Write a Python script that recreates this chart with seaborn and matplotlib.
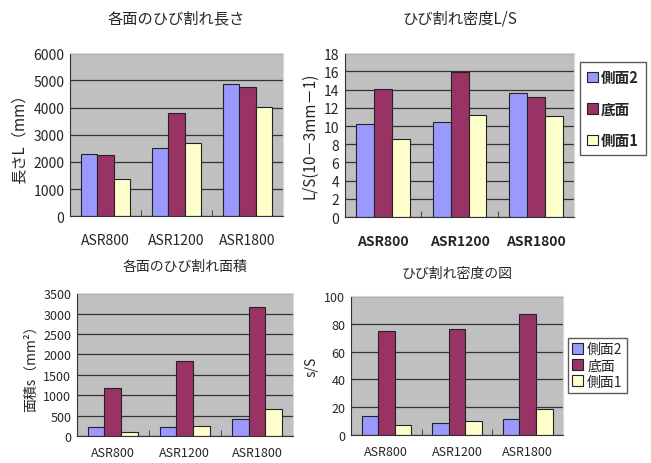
import numpy as np
import pandas as pd
import seaborn as sns
import matplotlib.pyplot as plt

# data
cats = ['ASR800', 'ASR1200', 'ASR1800']
series = ['側面2', '底面', '側面1']

# 各面のひび割れ長さ (mm)
len_side2 = [2300, 2520, 4880]
len_bottom = [2250, 3800, 4750]
len_side1 = [1370, 2700, 4030]

# ひび割れ密度 L/S
ls_side2 = [10.2, 10.4, 13.6]
ls_bottom = [14.1, 15.9, 13.2]
ls_side1 = [8.6, 11.2, 11.1]

# 各面のひび割れ面積 (mm2)
area_side2 = [220, 220, 430]
area_bottom = [1180, 1830, 3170]
area_side1 = [110, 250, 660]

# ひび割れ密度の図 s/S
sS_side2 = [14, 9, 11.5]
sS_bottom = [74.5, 76, 87]
sS_side1 = [7, 10, 18.5]

colors = ['#9999FF', '#993366', '#FFFFCC']

sns.set_style('white')
plt.rcParams['font.family'] = ['Noto Sans CJK JP', 'DejaVu Sans']


def make_df(a, b, c):
    rows = []
    for s, vals in zip(series, [a, b, c]):
        for cat, v in zip(cats, vals):
            rows.append({'cat': cat, 'series': s, 'val': v})
    return pd.DataFrame(rows)


def draw(ax, df, ymax, ystep, title, ylabel, legend=False, bold_x=False,
         tsize=10, xpad=12, tpad=22, titlesize=11):
    ax.set_facecolor('#C0C0C0')
    sns.barplot(data=df, x='cat', y='val', hue='series', hue_order=series,
                palette=colors, edgecolor='#222222', linewidth=0.8,
                width=0.7, ax=ax, legend=legend, saturation=1)
    ax.set_ylim(0, ymax)
    ax.set_yticks(np.arange(0, ymax + ystep / 2, ystep))
    ax.yaxis.grid(True, color='#333333', linewidth=0.9)
    ax.set_axisbelow(True)
    ax.set_xlim(-0.5, 2.5)
    ax.set_xticks([0.5, 1.5], minor=True)
    ax.tick_params(axis='x', which='minor', direction='in', length=4, color='#333333', bottom=True)
    ax.tick_params(axis='x', which='major', length=0, pad=xpad, labelsize=tsize)
    ax.tick_params(axis='y', length=0, labelsize=tsize, pad=4)
    if bold_x:
        for t in ax.get_xticklabels():
            t.set_fontweight('bold')
    for s in ['top', 'right']:
        ax.spines[s].set_color('#D8D8D8')
    for s in ['left', 'bottom']:
        ax.spines[s].set_color('#333333')
    ax.set_xlabel('')
    ax.set_ylabel(ylabel, fontsize=tsize + 1)
    ax.set_title(title, fontsize=titlesize, pad=tpad)


fig = plt.figure(figsize=(6.51, 4.64), dpi=100)

ax1 = fig.add_axes([0.1075, 0.532, 0.327, 0.351])
draw(ax1, make_df(len_side2, len_bottom, len_side1), 6000, 1000,
     '各面のひび割れ長さ', '長さL（mm）')

ax2 = fig.add_axes([0.530, 0.530, 0.352, 0.353])
draw(ax2, make_df(ls_side2, ls_bottom, ls_side1), 18, 2,
     'ひび割れ密度L/S', 'L/S(10－3mm－1)', legend=True, bold_x=True)
ax2.legend(loc='upper left', bbox_to_anchor=(0.891, 0.864), bbox_transform=fig.transFigure,
           prop={'size': 10.5, 'weight': 'bold'}, frameon=True, fancybox=False,
           edgecolor='#333333', handlelength=0.7, handleheight=0.7, handletextpad=0.25,
           labelspacing=1.05, borderpad=0.5, borderaxespad=0)

ax3 = fig.add_axes([0.118, 0.058, 0.332, 0.308])
draw(ax3, make_df(area_side2, area_bottom, area_side1), 3500, 500,
     '各面のひび割れ面積', '面積s（mm²）', tsize=9, xpad=7, tpad=17, titlesize=10)

ax4 = fig.add_axes([0.539, 0.060, 0.326, 0.300])
draw(ax4, make_df(sS_side2, sS_bottom, sS_side1), 100, 20,
     'ひび割れ密度の図', 's/S', legend=True, tsize=9, xpad=7, tpad=14, titlesize=10)
ax4.legend(loc='upper left', bbox_to_anchor=(0.872, 0.269), bbox_transform=fig.transFigure,
           fontsize=10, frameon=True, fancybox=False, edgecolor='#333333',
           handlelength=0.8, handleheight=0.8, handletextpad=0.3, labelspacing=0.15,
           borderpad=0.3, borderaxespad=0)

fig.savefig('out.png', dpi=100)
